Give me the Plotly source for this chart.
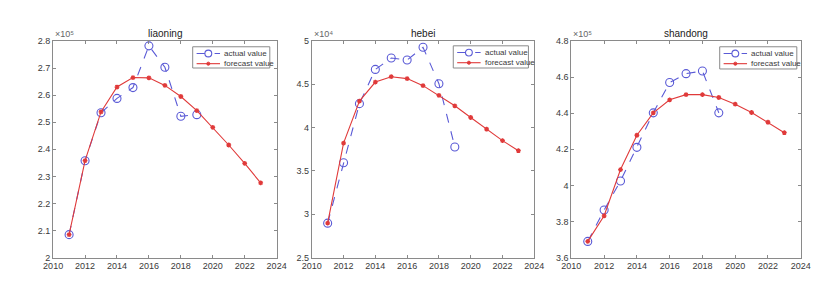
import plotly.graph_objects as go

years_actual = [2011, 2012, 2013, 2014, 2015, 2016, 2017, 2018, 2019]
years_forecast = list(range(2011, 2024))

titles = ["liaoning", "hebei", "shandong"]
exponent_labels = ["×10⁵", "×10⁴", "×10⁵"]
legend_labels = ["actual value", "forecast value"]

liaoning_actual = [2.085, 2.358, 2.535, 2.588, 2.628, 2.782, 2.703, 2.522, 2.528]
liaoning_forecast = [2.085, 2.358, 2.538, 2.630, 2.665, 2.664, 2.636, 2.595, 2.543, 2.481, 2.416, 2.348, 2.276]

hebei_actual = [2.898, 3.595, 4.277, 4.672, 4.803, 4.781, 4.927, 4.507, 3.777]
hebei_forecast = [2.898, 3.821, 4.307, 4.526, 4.588, 4.566, 4.485, 4.372, 4.252, 4.117, 3.982, 3.850, 3.734]

shandong_actual = [3.690, 3.864, 4.025, 4.211, 4.402, 4.570, 4.619, 4.634, 4.402]
shandong_forecast = [3.690, 3.832, 4.088, 4.278, 4.402, 4.474, 4.503, 4.503, 4.487, 4.450, 4.404, 4.350, 4.292]

y_ranges = [[2.0, 2.8], [2.5, 5.0], [3.6, 4.8]]
y_ticks = [
    [2.0, 2.1, 2.2, 2.3, 2.4, 2.5, 2.6, 2.7, 2.8],
    [2.5, 3.0, 3.5, 4.0, 4.5, 5.0],
    [3.6, 3.8, 4.0, 4.2, 4.4, 4.6, 4.8],
]
y_ticklabels = [
    ["2", "2.1", "2.2", "2.3", "2.4", "2.5", "2.6", "2.7", "2.8"],
    ["2.5", "3", "3.5", "4", "4.5", "5"],
    ["3.6", "3.8", "4", "4.2", "4.4", "4.6", "4.8"],
]
x_ticks = [2010, 2012, 2014, 2016, 2018, 2020, 2022, 2024]

actual_series = [liaoning_actual, hebei_actual, shandong_actual]
forecast_series = [liaoning_forecast, hebei_forecast, shandong_forecast]

W, H = 832, 287
x_domains_px = [(36, 265), (301, 529), (567, 802)]
y_top_px, y_bot_px = 29, 253.5
y_domain = [1 - y_bot_px / H, 1 - y_top_px / H]
# legend boxes (left, top, right, bottom) in px
legend_boxes_px = [(179, 35, 258, 57), (446, 34, 523, 57), (719, 35, 798, 58)]

BLUE = "#5a5ad6"
RED = "#e03a3a"
AX = "#8a8a8a"
TXT = "#3a3a3a"
FONT = "Liberation Sans, Arial, sans-serif"


def px_x(v):
    return v / W


def px_y(v):
    return 1 - v / H


fig = go.Figure()
annotations = []
shapes = []
for i in range(3):
    sfx = "" if i == 0 else str(i + 1)
    fig.add_trace(go.Scatter(
        x=years_actual, y=actual_series[i], mode="lines+markers",
        name=legend_labels[0], xaxis="x" + sfx, yaxis="y" + sfx, showlegend=False,
        line=dict(color=BLUE, width=1.1, dash="dash"),
        marker=dict(symbol="circle-open", size=8, color=BLUE, line=dict(width=1.1)),
    ))
    fig.add_trace(go.Scatter(
        x=years_forecast, y=forecast_series[i], mode="lines+markers",
        name=legend_labels[1], xaxis="x" + sfx, yaxis="y" + sfx, showlegend=False,
        line=dict(color=RED, width=1.1),
        marker=dict(symbol="asterisk-open", size=4, color=RED, line=dict(width=1.3, color=RED)),
    ))
    x0, x1 = x_domains_px[i]
    fig.update_layout(**{
        "xaxis" + sfx: dict(
            domain=[x0 / W, x1 / W], range=[2010, 2024], anchor="y" + sfx,
            tickvals=x_ticks, ticks="inside", ticklen=3, tickcolor=AX,
            showline=True, linecolor=AX, linewidth=1, mirror="allticks",
            showgrid=False, zeroline=False,
            tickfont=dict(size=9, color=TXT, family=FONT),
        ),
        "yaxis" + sfx: dict(
            domain=y_domain, range=y_ranges[i], anchor="x" + sfx,
            tickvals=y_ticks[i], ticktext=y_ticklabels[i],
            ticks="inside", ticklen=3, tickcolor=AX,
            showline=True, linecolor=AX, linewidth=1, mirror="allticks",
            showgrid=False, zeroline=False,
            tickfont=dict(size=9, color=TXT, family=FONT),
        ),
    })
    annotations.append(dict(
        text=titles[i], xref="paper", yref="paper",
        x=(x0 + x1) / 2 / W, y=px_y(y_top_px), xanchor="center", yanchor="bottom",
        yshift=0, showarrow=False, font=dict(size=10, color="#222", family=FONT),
    ))
    annotations.append(dict(
        text=exponent_labels[i], xref="paper", yref="paper",
        x=x0 / W, y=px_y(y_top_px), xanchor="left", yanchor="bottom",
        showarrow=False, font=dict(size=9, color="#666", family=FONT),
    ))

    # manual legend
    lx0, ly0, lx1, ly1 = legend_boxes_px[i]
    shapes.append(dict(
        type="rect", xref="paper", yref="paper",
        x0=px_x(lx0), x1=px_x(lx1), y0=px_y(ly1), y1=px_y(ly0),
        line=dict(color="#8a8a8a", width=1), fillcolor="white", layer="above",
    ))
    rows = [ly0 + 7, ly0 + 17.5]
    for r, (ry, col, dash) in enumerate(zip(rows, [BLUE, RED], ["dash", "solid"])):
        shapes.append(dict(
            type="line", xref="paper", yref="paper",
            x0=px_x(lx0 + 4), x1=px_x(lx0 + 28), y0=px_y(ry), y1=px_y(ry),
            line=dict(color=col, width=1.1, dash=dash), layer="above",
        ))
        cx = lx0 + 16
        if r == 0:
            rad = 3.5
            shapes.append(dict(
                type="circle", xref="paper", yref="paper",
                x0=px_x(cx - rad), x1=px_x(cx + rad), y0=px_y(ry + rad), y1=px_y(ry - rad),
                line=dict(color=col, width=1.1), fillcolor="white", layer="above",
            ))
        else:
            rad = 1.6
            shapes.append(dict(
                type="circle", xref="paper", yref="paper",
                x0=px_x(cx - rad), x1=px_x(cx + rad), y0=px_y(ry + rad), y1=px_y(ry - rad),
                line=dict(color=col, width=1), fillcolor=col, layer="above",
            ))
        annotations.append(dict(
            text=legend_labels[r], xref="paper", yref="paper",
            x=px_x(lx0 + 30), y=px_y(ry), xanchor="left", yanchor="middle",
            showarrow=False, font=dict(size=8, color=TXT, family=FONT),
        ))

fig.update_layout(
    width=W, height=H, margin=dict(l=0, r=0, t=0, b=0),
    paper_bgcolor="white", plot_bgcolor="white",
    annotations=annotations, shapes=shapes, showlegend=False,
)

fig.write_html("out.html")
